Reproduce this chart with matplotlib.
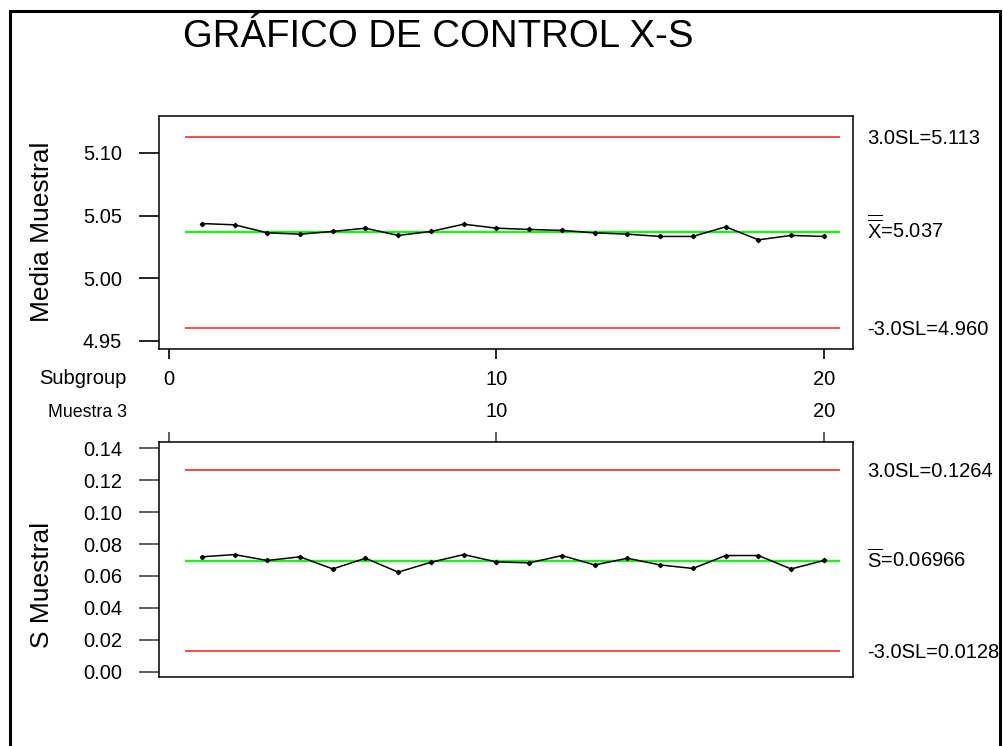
import matplotlib
matplotlib.use('Agg')
import matplotlib.pyplot as plt
from matplotlib.patches import Rectangle
from matplotlib.transforms import Bbox, TransformedBbox, offset_copy

plt.rcParams['font.family'] = ['Liberation Sans', 'DejaVu Sans']
plt.rcParams['mathtext.fontset'] = 'custom'
plt.rcParams['mathtext.rm'] = 'Liberation Sans'
plt.rcParams['mathtext.it'] = 'Liberation Sans:italic'

# ---------------- data ----------------
subgroups = list(range(1, 21))
xbar_means = [5.0436, 5.0426, 5.0362, 5.0351, 5.0373, 5.0399, 5.0341, 5.0373,
              5.0431, 5.0399, 5.0389, 5.0381, 5.0362, 5.0351, 5.0333, 5.0333,
              5.0410, 5.0306, 5.0341, 5.0333]
s_values = [0.0720, 0.0734, 0.0697, 0.0720, 0.0644, 0.0711, 0.0624, 0.0686,
            0.0734, 0.0688, 0.0682, 0.0728, 0.0669, 0.0711, 0.0669, 0.0647,
            0.0728, 0.0728, 0.0644, 0.0697]
xbar_center, xbar_ucl, xbar_lcl = 5.037, 5.113, 4.960
s_center, s_ucl, s_lcl = 0.06966, 0.1264, 0.0128
xbar_yticks = [4.95, 5.00, 5.05, 5.10]
xbar_yticklabels = ['4.95', '5.00', '5.05', '5.10']
s_yticks = [0.00, 0.02, 0.04, 0.06, 0.08, 0.10, 0.12, 0.14]
s_yticklabels = ['0.00', '0.02', '0.04', '0.06', '0.08', '0.10', '0.12', '0.14']
x_ticks = [0, 10, 20]
x_ticklabels_top = ['0', '10', '20']
x_ticklabels_bottom = ['', '10', '20']
title = 'GRÁFICO DE CONTROL X-S'
xbar_labels = ['3.0SL=5.113', r'$\overline{\overline{\mathrm{X}}}$=5.037', '-3.0SL=4.960']
s_labels = ['3.0SL=0.1264', r'$\overline{\mathrm{S}}$=0.06966', '-3.0SL=0.0128']

# ---------------- layout ----------------
W, H = 1004, 746
fig = plt.figure(figsize=(W / 100, H / 100), dpi=100)
fig.patch.set_facecolor('white')


def rect(l, t, r, b):
    return [l / W, 1 - b / H, (r - l) / W, (b - t) / H]


ax1 = fig.add_axes(rect(158.7, 115.7, 852.7, 349.3))
ax2 = fig.add_axes(rect(158.7, 442.3, 852.7, 676.7))

RED = '#ff1a1a'
GREEN = '#22ee22'
FS = 14.5

frame_clip = TransformedBbox(Bbox([[0, 0], [999 / W, 1]]), fig.transFigure)


def setup(ax, values, center, ucl, lcl, yticks, yticklabels, ylim, labels, tickcolor):
    ax.hlines([ucl, lcl], 0.5, 20.5, colors=RED, lw=1.1, zorder=2)
    ax.hlines([center], 0.5, 20.5, colors=GREEN, lw=1.7, zorder=2)
    ax.plot(subgroups, values, color='black', lw=1.1, marker='D', ms=2.2, zorder=3)
    ax.set_xlim(-0.316, 20.88)
    ax.set_ylim(*ylim)
    ax.set_yticks(yticks)
    ax.set_yticklabels(yticklabels, fontsize=FS)
    ax.tick_params(axis='y', direction='out', length=14.4, width=1.2, pad=12,
                   color=tickcolor)
    for sp in ax.spines.values():
        sp.set_linewidth(1.1)
        sp.set_color('black')
    tr = offset_copy(ax.get_yaxis_transform(), fig=fig, x=0, y=-7.2, units='dots')
    for val, lab in zip([ucl, center, lcl], labels):
        t = ax.text(1.0206, val, lab, transform=tr, fontsize=FS, ha='left', va='baseline')
        t.set_clip_on(True)
        t.set_clip_box(frame_clip)


setup(ax1, xbar_means, xbar_center, xbar_ucl, xbar_lcl, xbar_yticks, xbar_yticklabels,
      (4.9431, 5.1298), xbar_labels, 'black')
setup(ax2, s_values, s_center, s_ucl, s_lcl, s_yticks, s_yticklabels,
      (-0.00313, 0.14376), s_labels, '#444444')

# x axes: top chart ticks downward with labels; bottom chart ticks upward
ax1.set_xticks(x_ticks)
ax1.set_xticklabels(x_ticklabels_top, fontsize=FS)
ax1.tick_params(axis='x', direction='out', length=7.2, width=1.2, pad=7.4)

ax2.xaxis.tick_top()
ax2.set_xticks(x_ticks)
ax2.set_xticklabels(x_ticklabels_bottom, fontsize=FS)
ax2.tick_params(axis='x', direction='out', length=7.2, width=1.2, pad=8.2, color='#444444')

# row labels in the gap
fig.text(126.7 / W, 1 - 384.3 / H, 'Subgroup', fontsize=FS, ha='right', va='baseline')
fig.text(127 / W, 1 - 417.3 / H, 'Muestra 3', fontsize=12.8, ha='right', va='baseline')

# y labels
fig.text(42.4 / W, 1 - 232 / H, 'Media Muestral', fontsize=19, rotation=90,
         ha='center', va='center')
fig.text(42.4 / W, 1 - 585 / H, 'S Muestral', fontsize=19, rotation=90,
         ha='center', va='center')

# title
fig.text(183 / W, 1 - 47.3 / H, title, fontsize=27.6, ha='left', va='baseline')

# outer frame
fig.add_artist(Rectangle((10 / W, -0.1), 990 / W, (H - 11) / H + 0.1,
                         transform=fig.transFigure, fill=False, lw=2.2,
                         ec='black', zorder=10))

fig.savefig('out.png', dpi=100)
